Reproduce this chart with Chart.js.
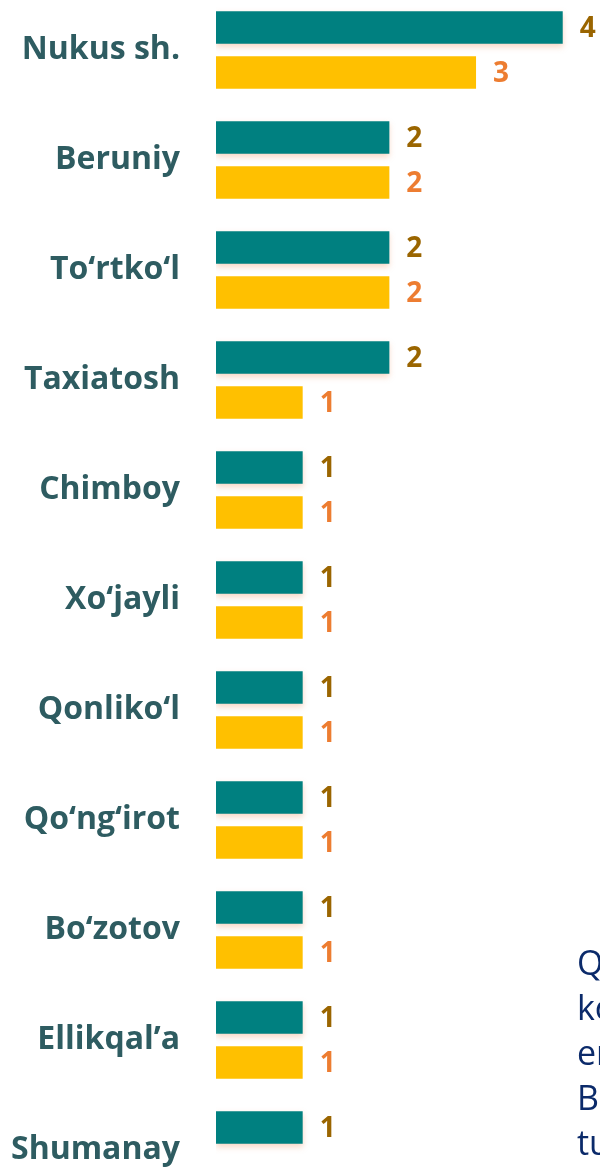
<!DOCTYPE html>
<html>
<head>
<meta charset="utf-8">
<script src="https://cdn.jsdelivr.net/npm/chart.js@4"></script>
<style>
  html, body { margin: 0; padding: 0; background: #fff; overflow: hidden; width: 600px; height: 1168px; }
  #regionChart { position: absolute; left: 0; top: -5px; }
  #note { position: absolute; left: 577px; top: 940px; font-family: "Open Sans", sans-serif; font-size: 34px; line-height: 45px; color: #0B2A6A; white-space: nowrap; }
</style>
</head>
<body>
<canvas id="regionChart" width="600" height="1210"></canvas>
<div id="note">Q<br>ko<br>en<br>Bo<br>tu</div>
<script>
var regions = ['Nukus sh.', 'Beruniy', 'To‘rtko‘l', 'Taxiatosh', 'Chimboy', 'Xo‘jayli', 'Qonliko‘l', 'Qo‘ng‘irot', 'Bo‘zotov', 'Ellikqal’a', 'Shumanay']
var seriesA = [4, 2, 2, 2, 1, 1, 1, 1, 1, 1, 1]
var seriesB = [3, 2, 2, 1, 1, 1, 1, 1, 1, 1, 0]

var labelColors = ['#9A6500', '#ED7D31']

// soft shadow under the teal bars
var barShadow = {
  id: 'barShadow',
  beforeDatasetDraw: function (chart, args) {
    if (args.index !== 0) return
    var ctx = chart.ctx
    ctx.save()
    ctx.shadowColor = 'rgba(235, 140, 90, 0.35)'
    ctx.shadowBlur = 6
    ctx.shadowOffsetY = 3
  },
  afterDatasetDraw: function (chart, args) {
    if (args.index !== 0) return
    chart.ctx.restore()
  }
}

// value labels at bar ends
var valueLabels = {
  id: 'valueLabels',
  afterDatasetsDraw: function (chart) {
    var ctx = chart.ctx
    ctx.save()
    ctx.font = 'bold 28px "Open Sans"'
    ctx.textAlign = 'left'
    ctx.textBaseline = 'middle'
    chart.data.datasets.forEach(function (ds, i) {
      var meta = chart.getDatasetMeta(i)
      ctx.fillStyle = labelColors[i]
      meta.data.forEach(function (bar, j) {
        var v = ds.data[j]
        if (!v) return
        ctx.fillText(String(v), bar.x + 17, bar.y + 2)
      })
    })
    ctx.restore()
  }
}

var ctx = document.getElementById('regionChart').getContext('2d')
var chart = new Chart(ctx, {
  type: 'bar',
  data: {
    labels: regions,
    datasets: [
      {
        label: 'A',
        data: seriesA,
        backgroundColor: '#008080',
        categoryPercentage: 0.818,
        barPercentage: 0.72
      },
      {
        label: 'B',
        data: seriesB,
        backgroundColor: '#FFC000',
        categoryPercentage: 0.818,
        barPercentage: 0.72
      }
    ]
  },
  options: {
    indexAxis: 'y',
    responsive: false,
    animation: false,
    layout: { padding: 0 },
    plugins: {
      legend: { display: false },
      tooltip: { enabled: false }
    },
    scales: {
      x: {
        display: false,
        min: 0,
        max: 4.43
      },
      y: {
        grid: { display: false, drawTicks: false },
        border: { display: false },
        ticks: {
          color: '#2E5C61',
          padding: 36,
          font: { family: 'Open Sans', size: 32, weight: 'bold' }
        },
        afterFit: function (scale) {
          scale.width = 216
          scale.paddingTop = 0
          scale.paddingBottom = 0
        }
      }
    }
  },
  plugins: [barShadow, valueLabels]
})
</script>
</body>
</html>
